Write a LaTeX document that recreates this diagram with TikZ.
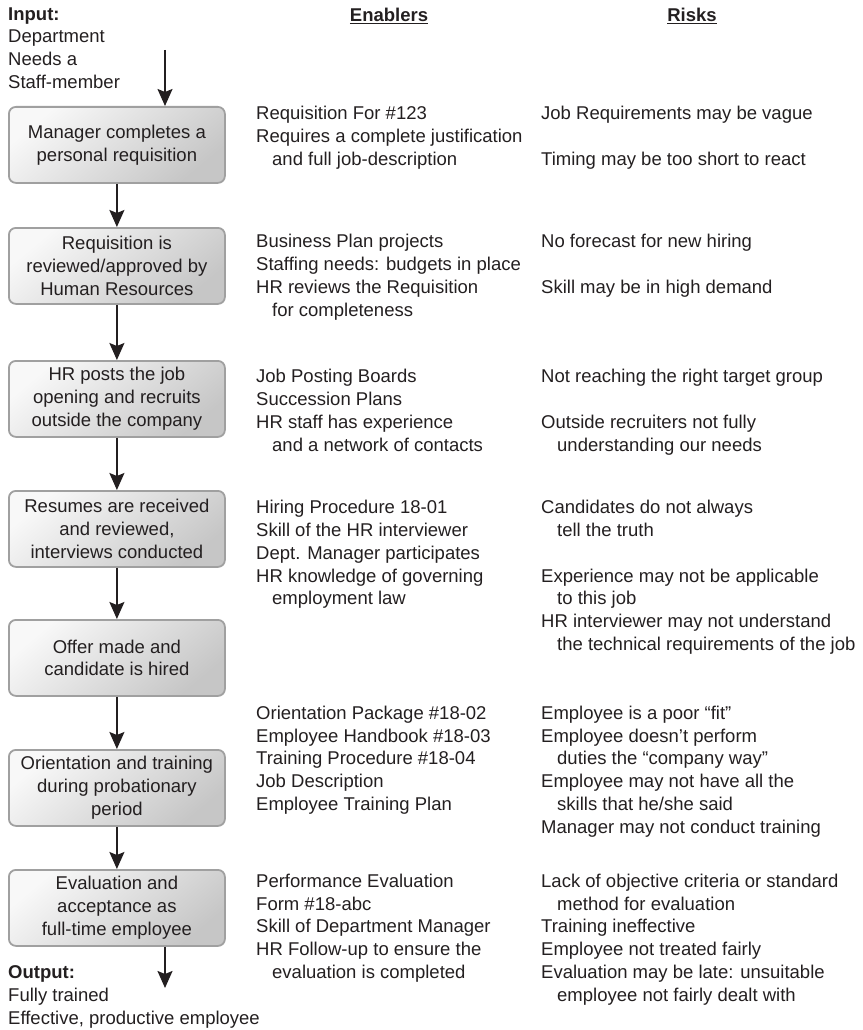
\documentclass[tikz,border=0pt]{standalone}
\usepackage{fontspec}
\setmainfont{Liberation Sans}
\usetikzlibrary{arrows.meta}

\definecolor{ink}{HTML}{231F20}
\definecolor{boxedge}{HTML}{A0A0A0}
\definecolor{boxlight}{HTML}{F8F8F8}
\definecolor{boxdark}{HTML}{C6C6C6}

% first-line strut: fixes the top of every text block at baseline - 15pt
\newcommand{\firststrut}{\rule{0pt}{15pt}}
\newcommand{\indentline}{\hspace*{16pt}}

\tikzset{
  x=1pt, y=-1pt,
  basefont/.style={font=\fontsize{18.5pt}{22.8pt}\selectfont, text=ink},
  txt/.style={basefont, inner sep=0pt, align=left, anchor=north west},
  head/.style={basefont, font=\fontsize{18.5pt}{22.8pt}\selectfont\bfseries, inner sep=0pt, anchor=base},
  stepbox/.style={basefont, rounded corners=7pt, draw=boxedge, line width=1.8pt,
    top color=boxlight, bottom color=boxdark, shading angle=40,
    minimum width=216pt, minimum height=76pt, inner sep=0pt, align=center,
    anchor=north west},
  flow/.style={draw=ink, line width=1.8pt, -{Stealth[length=17pt,width=15pt,inset=3pt]}},
}

\begin{document}
\begin{tikzpicture}
\useasboundingbox (0,0) rectangle (862,1030);

% column headings
\node[head] (hEn) at (389,21.5) {\underline{Enablers}};
\node[head] (hRi) at (692,21.5) {\underline{Risks}};

% input and output notes
\node[txt] (input) at (8,5)
  {\firststrut\textbf{Input:}\\Department\\Needs a\\Staff-member};
\node[txt] (output) at (8,963.5)
  {\firststrut\textbf{Output:}\\Fully trained\\Effective, productive employee};

% process steps
\node[stepbox] (b1) at (8,106) {Manager completes a\\personal requisition};
\node[stepbox] (b2) at (8,227) {Requisition is\\reviewed/approved by\\Human Resources};
\node[stepbox] (b3) at (8,360) {HR posts the job\\opening and recruits\\outside the company};
\node[stepbox] (b4) at (8,490) {Resumes are received\\and reviewed,\\interviews conducted};
\node[stepbox] (b5) at (8,619) {Offer made and\\candidate is hired};
\node[stepbox] (b6) at (8,749) {Orientation and training\\during probationary\\period};
\node[stepbox] (b7) at (8,869) {Evaluation and\\acceptance as\\full-time employee};

% flow arrows
\coordinate (inStart) at (165,50);
\coordinate (outEnd) at (165,988);
\draw[flow] (inStart) -- (inStart |- b1.north);
\draw[flow] (b1.south) -- (b2.north);
\draw[flow] (b2.south) -- (b3.north);
\draw[flow] (b3.south) -- (b4.north);
\draw[flow] (b4.south) -- (b5.north);
\draw[flow] (b5.south) -- (b6.north);
\draw[flow] (b6.south) -- (b7.north);
\draw[flow] (outEnd |- b7.south) -- (outEnd);

% enablers
\node[txt] (e1) at (256,104.5) {\firststrut Requisition For \#123\\
  Requires a complete justification\\\indentline and full job-description};
\node[txt] (e2) at (256,232.5) {\firststrut Business Plan projects\\
  Staffing needs: budgets in place\\HR reviews the Requisition\\
  \indentline for completeness};
\node[txt] (e3) at (256,367.5) {\firststrut Job Posting Boards\\Succession Plans\\
  HR staff has experience\\\indentline and a network of contacts};
\node[txt] (e4) at (256,498.5) {\firststrut Hiring Procedure 18-01\\
  Skill of the HR interviewer\\Dept. Manager participates\\
  HR knowledge of governing\\\indentline employment law};
\node[txt] (e6) at (256,704) {\firststrut Orientation Package \#18-02\\
  Employee Handbook \#18-03\\Training Procedure \#18-04\\
  Job Description\\Employee Training Plan};
\node[txt] (e7) at (256,872) {\firststrut Performance Evaluation\\Form \#18-abc\\
  Skill of Department Manager\\HR Follow-up to ensure the\\
  \indentline evaluation is completed};

% risks
\node[txt] (r1) at (541,104.5) {\firststrut Job Requirements may be vague\\[22.8pt]
  Timing may be too short to react};
\node[txt] (r2) at (541,232.5) {\firststrut No forecast for new hiring\\[22.8pt]
  Skill may be in high demand};
\node[txt] (r3) at (541,367.5) {\firststrut Not reaching the right target group\\[22.8pt]
  Outside recruiters not fully\\\indentline understanding our needs};
\node[txt] (r4) at (541,498.5) {\firststrut Candidates do not always\\
  \indentline tell the truth\\[22.8pt]
  Experience may not be applicable\\\indentline to this job\\
  HR interviewer may not understand\\
  \indentline the technical requirements of the job};
\node[txt] (r6) at (541,704) {\firststrut Employee is a poor “fit”\\
  Employee doesn’t perform\\\indentline duties the “company way”\\
  Employee may not have all the\\\indentline skills that he/she said\\
  Manager may not conduct training};
\node[txt] (r7) at (541,872) {\firststrut Lack of objective criteria or standard\\
  \indentline method for evaluation\\Training ineffective\\
  Employee not treated fairly\\Evaluation may be late: unsuitable\\
  \indentline employee not fairly dealt with};
\end{tikzpicture}
\end{document}
